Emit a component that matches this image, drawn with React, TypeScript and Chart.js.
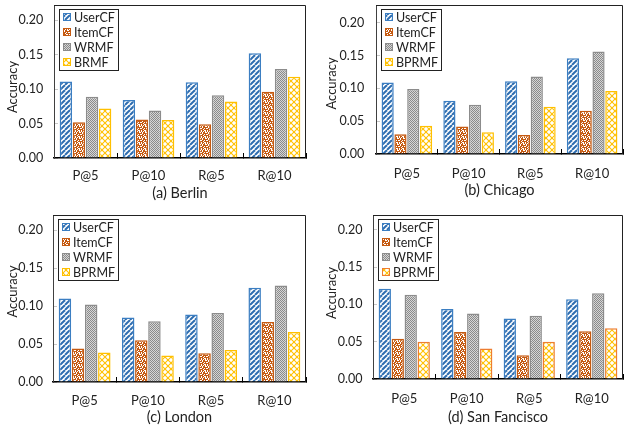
import React, { useEffect, useRef } from 'react';
import { Chart, registerables } from 'chart.js';

Chart.register(...registerables);

// ---------- data ----------
const categories = ['P@5', 'P@10', 'R@5', 'R@10'];
const yTickValues = [0, 0.05, 0.1, 0.15, 0.2];
const yAxisTitle = 'Accuracy';
const berlinNames = ['UserCF', 'ItemCF', 'WRMF', 'BRMF'];
const otherNames = ['UserCF', 'ItemCF', 'WRMF', 'BPRMF'];

const berlinUserCF = [0.111, 0.084, 0.110, 0.152];
const berlinItemCF = [0.052, 0.056, 0.049, 0.096];
const berlinWRMF = [0.089, 0.069, 0.091, 0.129];
const berlinBRMF = [0.072, 0.055, 0.082, 0.118];
const berlinYMax = 0.222;

const chicagoUserCF = [0.109, 0.081, 0.111, 0.146];
const chicagoItemCF = [0.030, 0.042, 0.029, 0.066];
const chicagoWRMF = [0.099, 0.075, 0.118, 0.156];
const chicagoBPRMF = [0.043, 0.033, 0.072, 0.096];
const chicagoYMax = 0.227;

const londonUserCF = [0.110, 0.085, 0.089, 0.124];
const londonItemCF = [0.044, 0.055, 0.038, 0.079];
const londonWRMF = [0.102, 0.080, 0.091, 0.127];
const londonBPRMF = [0.039, 0.035, 0.042, 0.066];
const londonYMax = 0.22;

const sfUserCF = [0.121, 0.094, 0.081, 0.107];
const sfItemCF = [0.054, 0.063, 0.032, 0.064];
const sfWRMF = [0.113, 0.088, 0.085, 0.115];
const sfBPRMF = [0.050, 0.041, 0.050, 0.068];
const sfYMax = 0.22;

// ---------- styles ----------
const FONT = 'Lato, "Open Sans", sans-serif';
const TEXT = '#222222';
const BLUE_BORDER = '#3B7EC2';
const BLUE_STRIPE = '#2E6DB0';
const ORANGE_DARK = '#C55A11';
const GRAY_BORDER = '#8C8C8C';
const YELLOW = '#FFC000';
const ORANGE = '#ED7D31';

function makePattern(kind: string, fg: string, bg: string): CanvasPattern | string {
  const c = document.createElement('canvas');
  let s = 5;
  if (kind === 'checker') s = 2;
  if (kind === 'dots') s = 6;
  if (kind === 'lattice') s = 6;
  c.width = s;
  c.height = s;
  const ctx = c.getContext('2d');
  if (!ctx) return fg;
  ctx.fillStyle = bg;
  ctx.fillRect(0, 0, s, s);
  ctx.fillStyle = fg;
  ctx.strokeStyle = fg;
  if (kind === 'stripes') {
    ctx.lineWidth = 2;
    for (const k of [-s, 0, s]) {
      ctx.beginPath();
      ctx.moveTo(k, s);
      ctx.lineTo(k + s, 0);
      ctx.stroke();
    }
  } else if (kind === 'dots') {
    const spots = [
      [1, 0, 2, 1], [4, 0, 1, 2], [0, 2, 1, 1], [2, 2, 2, 1], [5, 3, 1, 1],
      [0, 4, 2, 1], [3, 4, 1, 2], [5, 5, 1, 1], [1, 5, 1, 1],
    ];
    for (const [x, y, w, h] of spots) ctx.fillRect(x, y, w, h);
  } else if (kind === 'checker') {
    ctx.fillRect(0, 0, 1, 1);
    ctx.fillRect(1, 1, 1, 1);
  } else if (kind === 'lattice') {
    ctx.lineWidth = 1.1;
    for (const k of [-s, 0, s]) {
      ctx.beginPath();
      ctx.moveTo(k, 0);
      ctx.lineTo(k + s, s);
      ctx.stroke();
      ctx.beginPath();
      ctx.moveTo(k, s);
      ctx.lineTo(k + s, 0);
      ctx.stroke();
    }
  }
  const p = ctx.createPattern(c, 'repeat');
  return p || fg;
}

const framePlugin = {
  id: 'frame',
  afterDraw(chart: any) {
    const { ctx, chartArea } = chart;
    ctx.save();
    ctx.strokeStyle = '#222';
    ctx.lineWidth = 1;
    ctx.beginPath();
    const t = Math.round(chartArea.top) + 0.5;
    const r = Math.round(chartArea.right) - 0.5;
    ctx.moveTo(Math.round(chartArea.left), t);
    ctx.lineTo(r, t);
    ctx.lineTo(r, Math.round(chartArea.bottom));
    ctx.stroke();
    ctx.restore();
  },
};

const yTitlePlugin = {
  id: 'yTitle',
  afterDraw(chart: any, _args: any, opts: any) {
    const { ctx } = chart;
    ctx.save();
    ctx.translate(opts.x, opts.y);
    ctx.rotate(-Math.PI / 2);
    ctx.font = `13px ${FONT}`;
    ctx.fillStyle = TEXT;
    ctx.textAlign = 'center';
    ctx.textBaseline = 'middle';
    ctx.fillText(opts.text, 0, 0);
    ctx.restore();
  },
};

const boxLegendPlugin = {
  id: 'boxLegend',
  afterDraw(chart: any) {
    const { ctx, chartArea } = chart;
    const ds = chart.data.datasets;
    ctx.save();
    ctx.font = `12.5px ${FONT}`;
    const textW = Math.max(...ds.map((d: any) => ctx.measureText(d.label).width));
    const x0 = Math.round(chartArea.left + 5);
    const y0 = Math.round(chartArea.top + 4);
    const rowH = 15;
    const w = Math.round(14 + textW + 4);
    const h = Math.round(8 + rowH * (ds.length - 1) + 8);
    ctx.fillStyle = '#fff';
    ctx.fillRect(x0, y0, w, h);
    ctx.strokeStyle = '#222';
    ctx.lineWidth = 1;
    ctx.strokeRect(x0 + 0.5, y0 + 0.5, w, h);
    ds.forEach((d: any, i: number) => {
      const cy = Math.round(y0 + 8 + i * rowH);
      ctx.fillStyle = d.backgroundColor;
      ctx.fillRect(x0 + 4, cy - 4, 8, 8);
      ctx.strokeStyle = d.borderColor;
      ctx.lineWidth = 1;
      ctx.strokeRect(x0 + 4.5, cy - 3.5, 7, 7);
      ctx.fillStyle = TEXT;
      ctx.textAlign = 'left';
      ctx.textBaseline = 'middle';
      ctx.fillText(d.label, x0 + 15, cy + 0.5);
    });
    ctx.restore();
  },
};

type Area = { left: number; right: number; top: number; bottom: number };
type PanelProps = {
  x: number; y: number; w: number; h: number; area: Area;
  yMax: number; title: string; names: string[]; series: number[][];
  lastBorder: string; yTitleX: number; yTitleY: number; xTitleY: number; xLabelY: number; yLabelGap: number;
};

function Panel(p: PanelProps) {
  const ref = useRef<HTMLCanvasElement>(null);
  useEffect(() => {
    if (!ref.current) return;
    const fills = [
      makePattern('stripes', BLUE_STRIPE, '#ffffff'),
      makePattern('dots', '#ffffff', ORANGE_DARK),
      makePattern('checker', '#8a8a8a', '#d6d6d6'),
      makePattern('lattice', YELLOW, '#ffffff'),
    ];
    const borders = [BLUE_BORDER, ORANGE_DARK, GRAY_BORDER, p.lastBorder];
    const yTickFont = { family: FONT, size: 12.5 };
    const xTickFont = { family: FONT, size: 13 };
    const xTitleFont = { family: FONT, size: 14.5 };
    const xBottom = p.h - p.area.bottom;
    const chart = new Chart(ref.current, {
      type: 'bar',
      data: {
        labels: categories,
        datasets: p.series.map((vals, i) => ({
          label: p.names[i],
          data: vals,
          backgroundColor: fills[i] as any,
          borderColor: borders[i],
          borderWidth: 1.5,
          categoryPercentage: 0.83,
          barPercentage: 0.95,
        })),
      },
      options: {
        animation: false,
        responsive: false,
        devicePixelRatio: 1,
        layout: { padding: { top: p.area.top, right: p.w - p.area.right, left: 0, bottom: 0 } },
        plugins: {
          legend: { display: false },
          tooltip: { enabled: false },
          yTitle: { text: yAxisTitle, x: p.yTitleX, y: p.yTitleY },
        },
        scales: {
          x: {
            type: 'category',
            grid: { display: true, drawOnChartArea: false, drawTicks: true, tickLength: -5, color: '#000', lineWidth: 1, offset: true },
            border: { display: true, color: '#000', width: 1.5 },
            ticks: { color: TEXT, font: xTickFont, padding: p.xLabelY - p.area.bottom - 2, maxRotation: 0 },
            title: {
              display: true, text: p.title, color: TEXT, font: xTitleFont,
              padding: { top: 0, bottom: (p.h - p.xTitleY) - 8.7 },
            },
            afterFit: (scale: any) => {
              scale.height = xBottom;
              scale.paddingLeft = 0;
              scale.paddingRight = 0;
            },
          },
          y: {
            min: 0,
            max: p.yMax,
            grid: { display: true, drawOnChartArea: false, drawTicks: true, tickLength: -4, color: '#c8c8c8' },
            border: { display: true, color: '#404040', width: 1 },
            ticks: {
              color: TEXT, font: yTickFont, padding: 4 + p.yLabelGap,
              callback: (v: any) => Number(v).toFixed(2),
            },
            afterBuildTicks: (scale: any) => { scale.ticks = yTickValues.map((v) => ({ value: v })); },
            title: { display: false },
            afterFit: (scale: any) => {
              scale.width = p.area.left;
              scale.paddingTop = 0;
              scale.paddingBottom = 0;
            },
          },
        },
      } as any,
      plugins: [framePlugin, boxLegendPlugin, yTitlePlugin],
    });
    return () => chart.destroy();
  }, []);
  return (
    <canvas
      ref={ref}
      width={p.w}
      height={p.h}
      style={{ position: 'absolute', left: p.x, top: p.y, width: p.w, height: p.h, display: 'block' }}
    />
  );
}

export default function App() {
  const panels: PanelProps[] = [
    {
      x: 0, y: 0, w: 312, h: 210, area: { left: 54, right: 306, top: 5, bottom: 158 },
      yMax: berlinYMax, title: '(a) Berlin', names: berlinNames,
      series: [berlinUserCF, berlinItemCF, berlinWRMF, berlinBRMF], lastBorder: YELLOW,
      yTitleX: 13, yTitleY: 87, xTitleY: 193, xLabelY: 175, yLabelGap: 10.7,
    },
    {
      x: 312, y: 0, w: 313, h: 210, area: { left: 64, right: 311, top: 5, bottom: 154 },
      yMax: chicagoYMax, title: '(b) Chicago', names: otherNames,
      series: [chicagoUserCF, chicagoItemCF, chicagoWRMF, chicagoBPRMF], lastBorder: YELLOW,
      yTitleX: 19.7, yTitleY: 83.5, xTitleY: 190, xLabelY: 172.7, yLabelGap: 11.7,
    },
    {
      x: 0, y: 210, w: 312, h: 221, area: { left: 53, right: 306, top: 5, bottom: 172 },
      yMax: londonYMax, title: '(c) London', names: otherNames,
      series: [londonUserCF, londonItemCF, londonWRMF, londonBPRMF], lastBorder: YELLOW,
      yTitleX: 13, yTitleY: 81.5, xTitleY: 207, xLabelY: 190, yLabelGap: 10,
    },
    {
      x: 312, y: 210, w: 313, h: 221, area: { left: 61, right: 311, top: 5, bottom: 169 },
      yMax: sfYMax, title: '(d) San Fancisco', names: otherNames,
      series: [sfUserCF, sfItemCF, sfWRMF, sfBPRMF], lastBorder: ORANGE,
      yTitleX: 19.7, yTitleY: 83, xTitleY: 207, xLabelY: 188, yLabelGap: 10.6,
    },
  ];
  return (
    <div style={{ position: 'absolute', left: 0, top: 0, width: 625, height: 431, background: '#fff' }}>
      {panels.map((p, i) => <Panel key={i} {...p} />)}
    </div>
  );
}
